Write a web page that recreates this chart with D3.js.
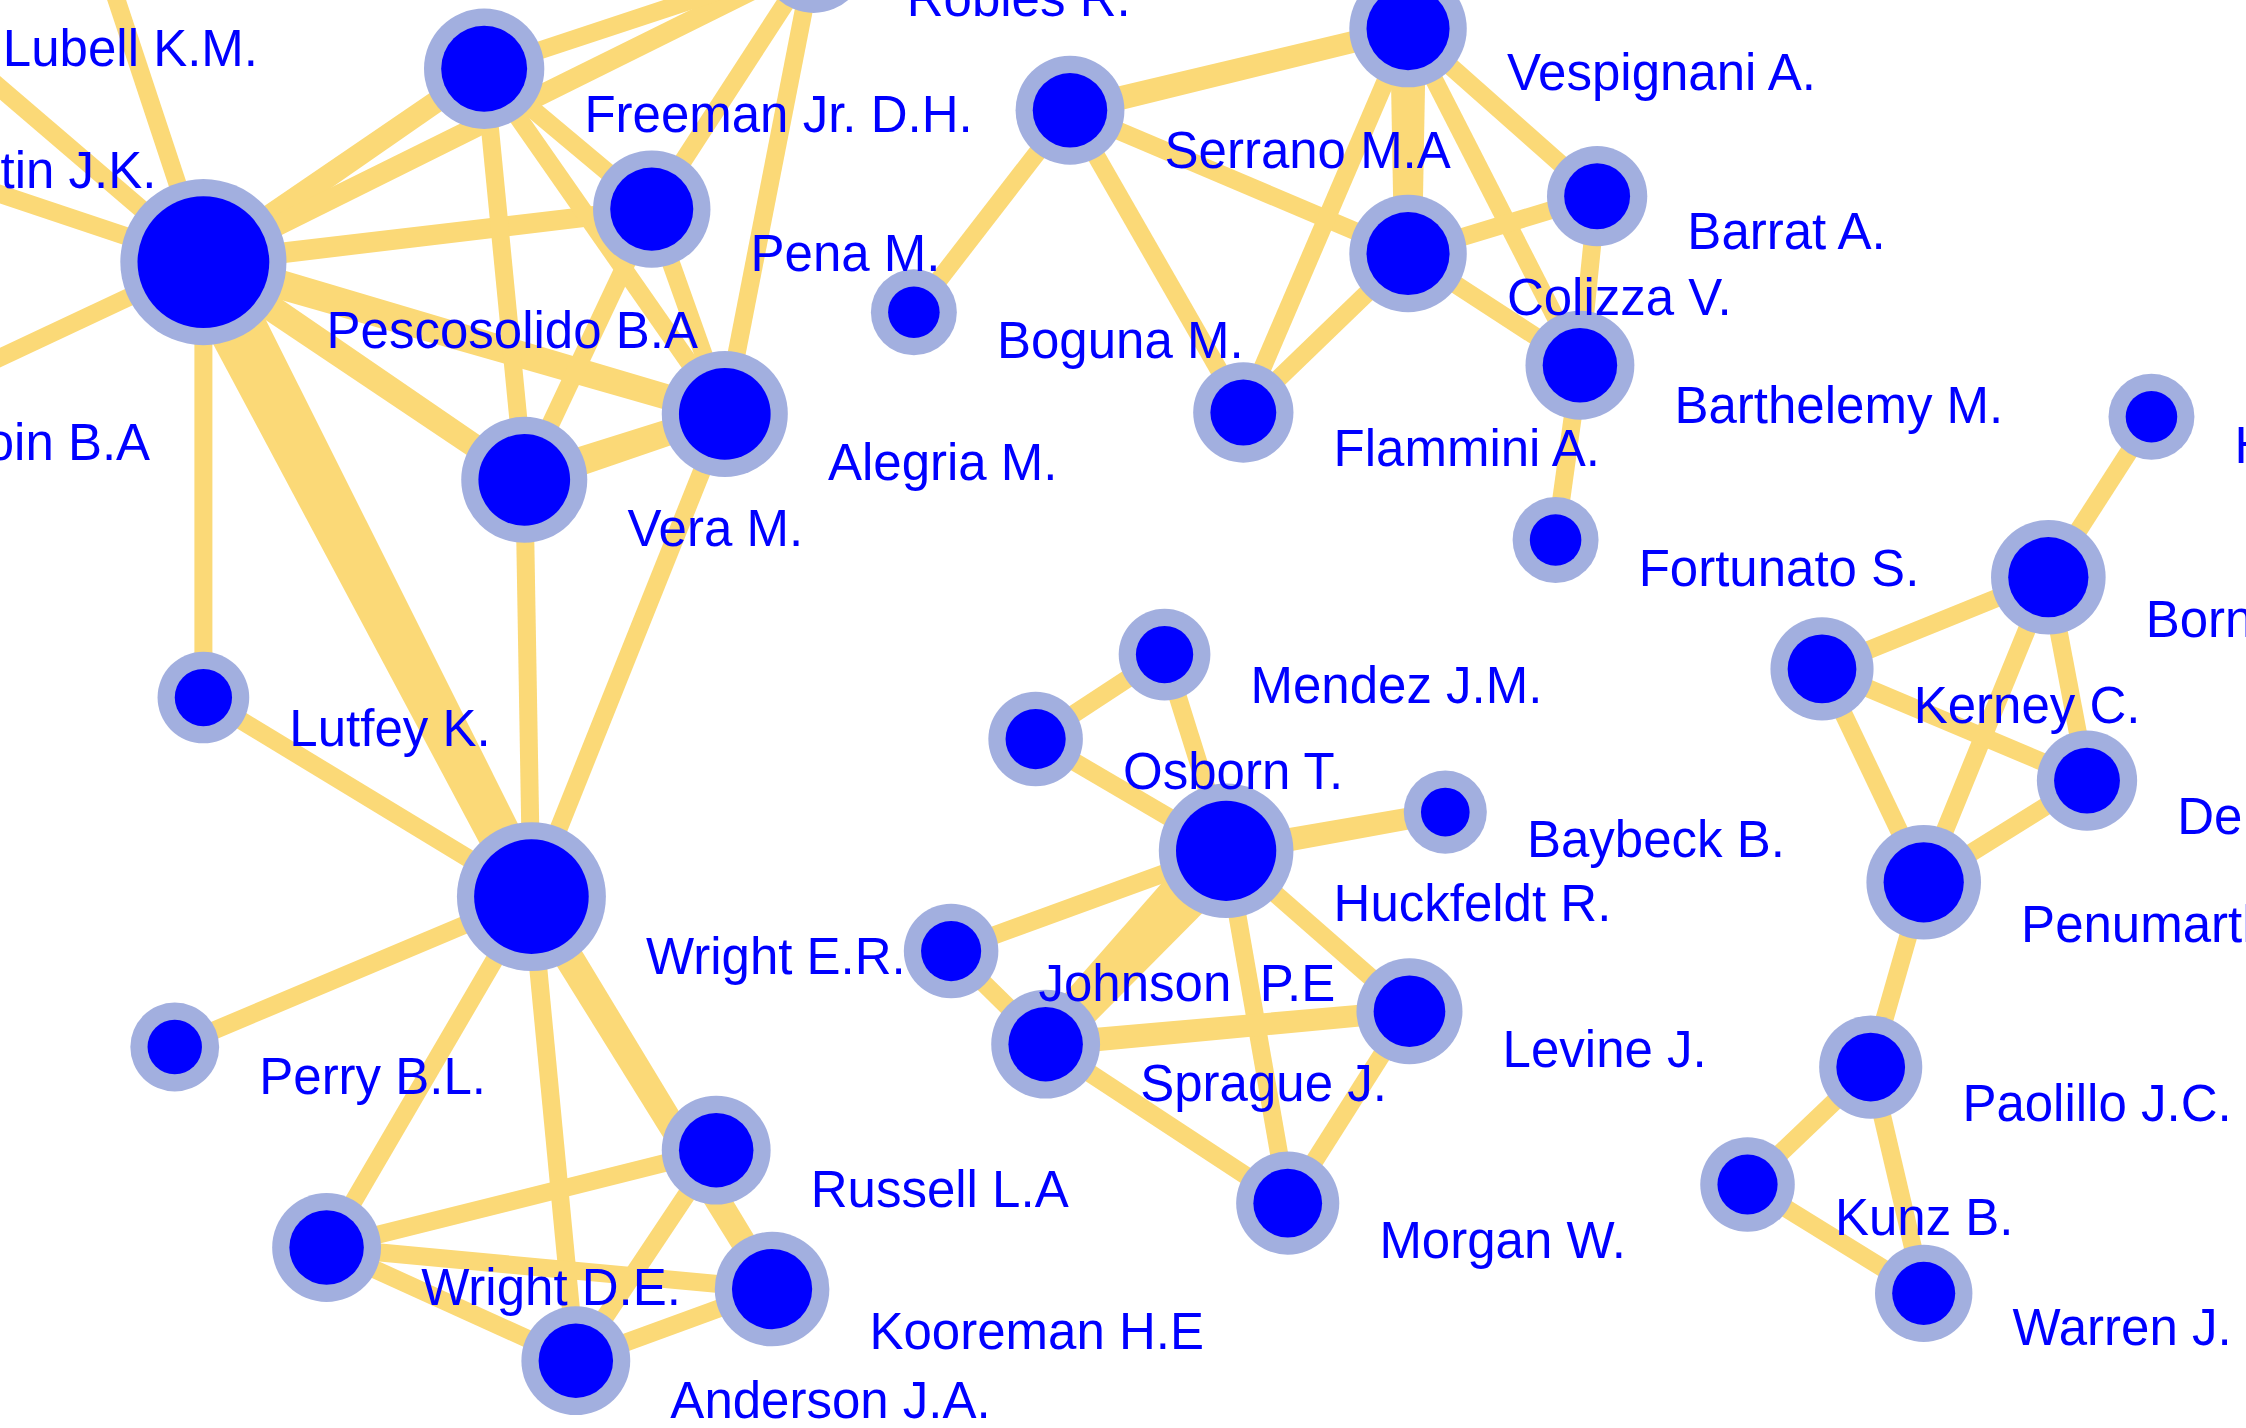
<!DOCTYPE html>
<html>
<head>
<meta charset="utf-8">
<script src="https://cdn.jsdelivr.net/npm/d3@7"></script>
<style>
    html, body { margin: 0; padding: 0; background: #ffffff; overflow: hidden; }
</style>
</head>
<body>
<div id="graph"></div>
<script>
// node layout (layout units, 1568 x 997 frame)
const ids = ["pesco", "freeman", "pena", "vera", "alegria", "robles", "lutfey", "wrightER", "perry", "wrightDE",
    "russell", "kooreman", "anderson", "lubell", "martin", "boin", "top",
    "serrano", "vespignani", "barrat", "colizza", "boguna", "barthelemy", "flammini", "fortunato",
    "mendez", "osborn", "baybeck", "huckfeldt", "johnson", "levine", "sprague", "morgan",
    "herr", "borner", "kerney", "de", "penumarthy", "paolillo", "kunz", "warren"]
const labels = ["Pescosolido B.A", "Freeman Jr. D.H.", "Pena M.", "Vera M.", "Alegria M.", "Robles R.", "Lutfey K.",
    "Wright E.R.", "Perry B.L.", "Wright D.E.", "Russell L.A", "Kooreman H.E", "Anderson J.A.", "Lubell K.M.",
    "Martin J.K.", "oin B.A", "",
    "Serrano M.A", "Vespignani A.", "Barrat A.", "Colizza V.", "Boguna M.", "Barthelemy M.", "Flammini A.",
    "Fortunato S.", "Mendez J.M.", "Osborn T.", "Baybeck B.", "Huckfeldt R.", "Johnson  P.E", "Levine J.",
    "Sprague J.", "Morgan W.", "Herr B.W.", "Borner K.", "Kerney C.", "De", "Penumarthy S.", "Paolillo J.C.",
    "Kunz B.", "Warren J."]
const posX = [142, 338, 455, 366, 506, 568, 142, 371, 122, 228,
    500, 539, 402, -61, -124, -73, 45,
    747, 983, 1115, 983, 638, 1103, 868, 1086,
    813, 723, 1009, 856, 664, 984, 730, 899,
    1502, 1430, 1272, 1457, 1343, 1306, 1220, 1343]
const posY = [183, 48, 146, 335, 289, -28, 487, 626, 731, 871,
    803, 900, 950, 9, 94, 284, -110,
    77, 20, 137, 177, 218, 255, 288, 377,
    457, 516, 567, 594, 664, 706, 729, 840,
    291, 403, 467, 545, 616, 745, 827, 903]
const degree = [58, 42, 41, 44, 44, 37, 32, 52, 31, 38,
    38, 40, 38, 35, 35, 35, 35,
    38, 41, 35, 41, 30, 38, 35, 30,
    32, 33, 29, 47, 33, 37, 38, 36,
    30, 40, 36, 35, 40, 36, 33, 34]

// co-authorship links: source, target, weight
const links = [
    ["pesco", "lubell", 1], ["pesco", "martin", 1], ["pesco", "boin", 1], ["pesco", "top", 1],
    ["pesco", "freeman", 2], ["pesco", "robles", 1.5], ["pesco", "pena", 1.5], ["pesco", "alegria", 3],
    ["pesco", "vera", 2.5], ["pesco", "wrightER", 8], ["pesco", "lutfey", 1],
    ["freeman", "pena", 1], ["freeman", "vera", 1], ["freeman", "alegria", 1], ["freeman", "robles", 1],
    ["robles", "pena", 1], ["robles", "alegria", 1], ["pena", "vera", 1], ["pena", "alegria", 1],
    ["vera", "alegria", 3], ["vera", "wrightER", 1], ["alegria", "wrightER", 1], ["lutfey", "wrightER", 1],
    ["perry", "wrightER", 1], ["wrightER", "wrightDE", 1], ["wrightER", "anderson", 1], ["wrightER", "kooreman", 3],
    ["wrightDE", "russell", 1], ["wrightDE", "kooreman", 1], ["wrightDE", "anderson", 1],
    ["russell", "anderson", 1], ["anderson", "kooreman", 1],
    ["serrano", "vespignani", 2], ["serrano", "boguna", 1], ["serrano", "flammini", 1], ["serrano", "colizza", 1],
    ["vespignani", "colizza", 4], ["vespignani", "flammini", 1], ["vespignani", "barrat", 1],
    ["vespignani", "barthelemy", 1], ["colizza", "barrat", 1], ["colizza", "barthelemy", 1],
    ["colizza", "flammini", 1], ["barrat", "barthelemy", 1], ["barthelemy", "fortunato", 1],
    ["osborn", "mendez", 1], ["mendez", "huckfeldt", 1], ["osborn", "huckfeldt", 1], ["huckfeldt", "baybeck", 2],
    ["huckfeldt", "johnson", 1], ["huckfeldt", "sprague", 7], ["huckfeldt", "levine", 1], ["huckfeldt", "morgan", 1],
    ["johnson", "sprague", 1], ["sprague", "levine", 2], ["sprague", "morgan", 1], ["levine", "morgan", 1],
    ["herr", "borner", 1], ["borner", "kerney", 1], ["borner", "penumarthy", 1], ["borner", "de", 1],
    ["kerney", "de", 1], ["kerney", "penumarthy", 1], ["de", "penumarthy", 1], ["penumarthy", "paolillo", 1],
    ["paolillo", "kunz", 1], ["paolillo", "warren", 1], ["kunz", "warren", 1]
]

const width = 2246
const height = 1428

const x = d3.scaleLinear().domain([0, 1568]).range([0, width])
const y = d3.scaleLinear().domain([0, 997]).range([0, height])
const k = width / 1568
const ring = 12 * k
const edgeWidth = d3.scaleLinear().domain([1, 8]).range([18, 60])

const nodes = ids.map((id, i) => ({ id: id, label: labels[i], x: x(posX[i]), y: y(posY[i]), r: degree[i] * k }))
const byId = new Map(nodes.map(d => [d.id, d]))

const svg = d3.select("#graph")
    .append("svg")
    .attr("width", width)
    .attr("height", height)
    .style("background", "#ffffff")

// tapered edge: wide at source, narrower at target for heavy links
const edgePath = (l) => {
    const s = byId.get(l[0]), t = byId.get(l[1])
    const ws = edgeWidth(l[2])
    const wt = 18 + (ws - 18) * 0.55
    const dx = t.x - s.x, dy = t.y - s.y
    const len = Math.hypot(dx, dy)
    const nx = -dy / len, ny = dx / len
    const p = d3.path()
    p.moveTo(s.x + nx * ws / 2, s.y + ny * ws / 2)
    p.lineTo(t.x + nx * wt / 2, t.y + ny * wt / 2)
    p.lineTo(t.x - nx * wt / 2, t.y - ny * wt / 2)
    p.lineTo(s.x - nx * ws / 2, s.y - ny * ws / 2)
    p.closePath()
    return p.toString()
}

svg.append("g")
    .selectAll("path")
    .data(links)
    .enter()
    .append("path")
    .attr("d", edgePath)
    .style("fill", "#FBD977")

const node = svg.append("g")
    .selectAll("g")
    .data(nodes)
    .enter()
    .append("g")
    .attr("transform", d => "translate(" + d.x + "," + d.y + ")")

node.append("circle")
    .attr("r", d => d.r)
    .style("fill", "#A2AFDF")

node.append("circle")
    .attr("r", d => d.r - ring)
    .style("fill", "#0000FF")

svg.append("g")
    .selectAll("text")
    .data(nodes)
    .enter()
    .append("text")
    .attr("x", d => d.x + d.r + 28 * k)
    .attr("y", d => d.y + d.r + 2 * k)
    .text(d => d.label)
    .attr("font-size", "51")
    .attr("font-family", "Liberation Sans, Arial, sans-serif")
    .style("fill", "#0000FF")
    .style("white-space", "pre")
</script>
</body>
</html>
